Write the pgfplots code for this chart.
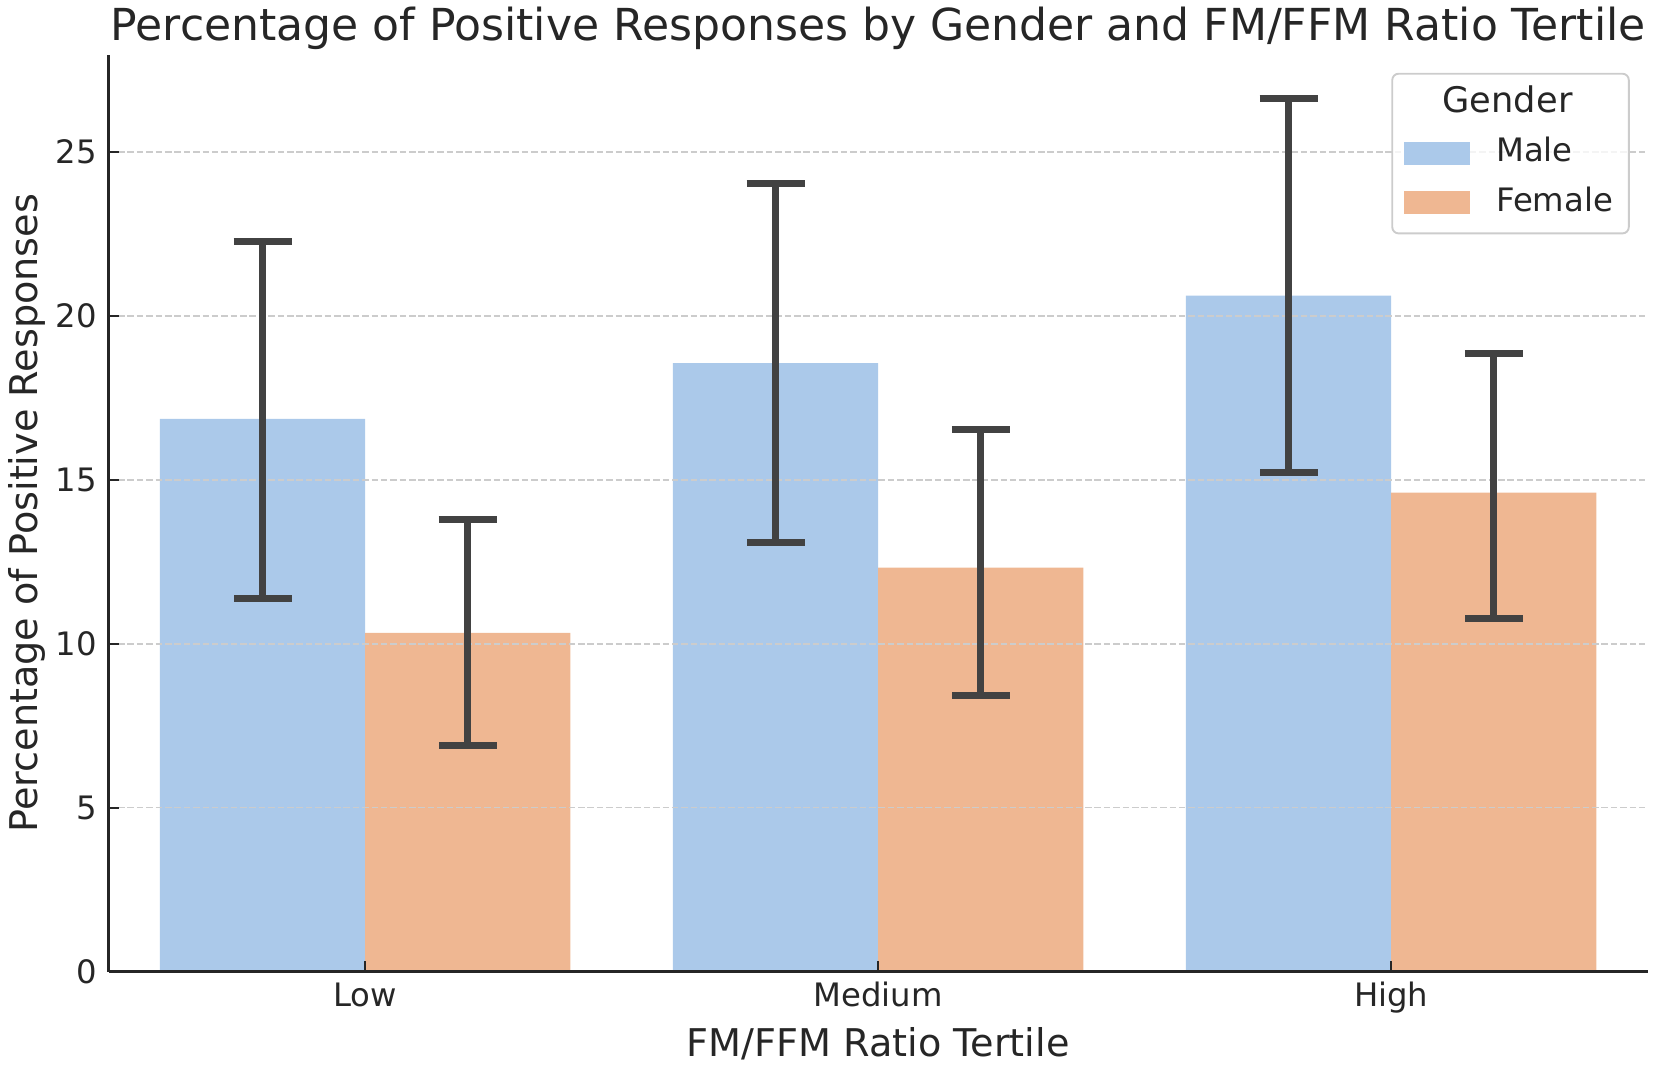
\documentclass[border=0pt]{standalone}
\usepackage{fontspec}
\setmainfont{DejaVu Sans}
\usepackage{pgfplots}
\usepackage{pgfplotstable}
\pgfplotsset{compat=1.18}
\definecolor{maleblue}{HTML}{ABC9EA}
\definecolor{femaleorange}{HTML}{EFB792}
\definecolor{errgray}{HTML}{424242}
\definecolor{textgray}{HTML}{262626}
\definecolor{gridgray}{HTML}{CCCCCC}
\definecolor{legendedge}{HTML}{CCCCCC}
\pgfplotstableread{
x     y      ep    em
-0.2  16.86  5.41  5.47
0.8   18.56  5.47  5.46
1.8   20.62  6.02  5.40
}\maletab
\pgfplotstableread{
x     y      ep    em
0.2   10.33  3.47  3.44
1.2   12.32  4.22  3.89
2.2   14.61  4.24  3.83
}\femaletab
\begin{document}
\begin{tikzpicture}
\begin{axis}[
  name=ax,
  scale only axis,
  width=729.5pt, height=434.5pt,
  xmin=-0.5, xmax=2.5,
  ymin=0, ymax=27.97,
  axis on top,
  axis x line*=bottom, axis y line*=left,
  axis line style={-, line width=1.6pt, color=textgray},
  xtick={0,1,2}, xticklabels={Low,Medium,High},
  ytick={0,5,10,15,20,25},
  tick align=inside,
  major tick length=4.8pt,
  tick style={line width=1pt, color=textgray},
  /pgf/number format/assume math mode=true,
  tick label style={font=\fontsize{15.3}{18}\selectfont, color=textgray},
  xticklabel style={anchor=base, inner sep=0pt, yshift=-16.75pt},
  yticklabel style={anchor=east, inner sep=0pt, xshift=-5.5pt},
  xlabel={FM/FFM Ratio Tertile},
  ylabel={Percentage of Positive Responses},
  label style={font=\fontsize{18.1}{22}\selectfont, color=textgray},
  xlabel style={at={(axis description cs:0.5,-0.0932)}, anchor=base, inner sep=0pt},
  ylabel style={at={(axis description cs:-0.0462,0.5)}, anchor=base, inner sep=0pt},
  title={Percentage of Positive Responses by Gender and FM/FFM Ratio Tertile},
  every axis title shift=0pt,
  title style={at={(axis description cs:0.5,1)}, anchor=base, yshift=7pt, inner sep=0pt,
    font=\fontsize{20.9}{25}\selectfont, color=textgray},
  legend style={
    at={(axis description cs:1,1)}, xshift=-8.5pt, yshift=-8.5pt, anchor=north east,
    draw=legendedge, line width=0.9pt, rounded corners=3pt,
    fill=white, fill opacity=0.8, draw opacity=1, text opacity=1,
    font=\fontsize{15.3}{18}\selectfont, text=textgray,
    inner xsep=5.5pt, inner ysep=5pt, row sep=4.2pt,
    nodes={inner sep=2pt, text height=11.5pt, text depth=3.6pt},
    /tikz/every odd column/.append style={column sep=10.5pt},
  },
  legend cell align=left,
  legend image code/.code={\fill[#1, sharp corners, fill opacity=1] (0pt,-5.5pt) rectangle (31.3pt,5.5pt);},
]
\addlegendimage{empty legend}
\addlegendentry{\hspace*{-25.4pt}{\fontsize{16.7}{20}\selectfont Gender}}

\addplot[ybar, bar width=0.4, bar shift=0pt, fill=maleblue, draw=none]
  table[x=x, y=y] {\maletab};
\addlegendentry{Male}
\addplot[ybar, bar width=0.4, bar shift=0pt, fill=femaleorange, draw=none]
  table[x=x, y=y] {\femaletab};
\addlegendentry{Female}

% horizontal grid lines (above bars, below error bars)
\addplot[forget plot, gridgray, line width=0.8pt, dash pattern=on 3.1pt off 1.35pt] coordinates {(-0.5,5) (2.5,5)};
\addplot[forget plot, gridgray, line width=0.8pt, dash pattern=on 3.1pt off 1.35pt] coordinates {(-0.5,10) (2.5,10)};
\addplot[forget plot, gridgray, line width=0.8pt, dash pattern=on 3.1pt off 1.35pt] coordinates {(-0.5,15) (2.5,15)};
\addplot[forget plot, gridgray, line width=0.8pt, dash pattern=on 3.1pt off 1.35pt] coordinates {(-0.5,20) (2.5,20)};
\addplot[forget plot, gridgray, line width=0.8pt, dash pattern=on 3.1pt off 1.35pt] coordinates {(-0.5,25) (2.5,25)};

% error bars
\addplot[forget plot, draw=none, mark=none,
  error bars/.cd, y dir=both, y explicit, error mark=|,
  error bar style={draw=errgray, line width=3.3pt},
  error mark options={draw=errgray, line width=3.3pt, mark size=13.75pt}]
  table[x=x, y=y, y error plus=ep, y error minus=em] {\maletab};
\addplot[forget plot, draw=none, mark=none,
  error bars/.cd, y dir=both, y explicit, error mark=|,
  error bar style={draw=errgray, line width=3.3pt},
  error mark options={draw=errgray, line width=3.3pt, mark size=13.75pt}]
  table[x=x, y=y, y error plus=ep, y error minus=em] {\femaletab};
\end{axis}
\pgfresetboundingbox
\path[use as bounding box] ([xshift=-51.5pt,yshift=-44.8pt]ax.south west) rectangle ([xshift=3pt,yshift=26pt]ax.north east);
\end{tikzpicture}
\end{document}
